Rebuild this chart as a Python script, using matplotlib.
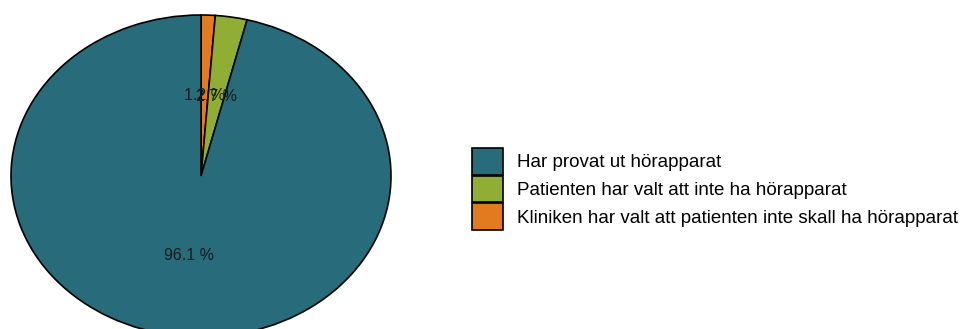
import matplotlib.pyplot as plt

plt.rcParams["font.family"] = ["Liberation Sans", "DejaVu Sans"]

# andelar i procent, medurs från toppen
kategorier = [
    "Kliniken har valt att patienten inte skall ha hörapparat",
    "Patienten har valt att inte ha hörapparat",
    "Har provat ut hörapparat",
]
andelar = [1.2, 2.7, 96.1]
farger = ["#e27b1f", "#8fae33", "#286b7b"]

fig = plt.figure(figsize=(9.65, 3.29), dpi=100)
W, H = 965, 329

# pajen placeras i pixelkoordinater (vänster, topp, bredd, höjd)
px_l, px_t, px_w, px_h = 11, 15, 380, 322
ax = fig.add_axes([px_l / W, (H - px_t - px_h) / H, px_w / W, px_h / H])

wedges, texter, autotexter = ax.pie(
    andelar,
    colors=farger,
    startangle=90,
    counterclock=False,
    autopct=lambda p: f"{p:.1f} %",
    pctdistance=0.5,
    wedgeprops=dict(edgecolor="black", linewidth=1.2),
    textprops=dict(fontsize=11.5, color="#1a1a1a"),
)
ax.set_aspect("auto")
ax.set_xlim(-1.0, 1.0)
ax.set_ylim(-1.0, 1.0)
ax.axis("off")

# legenden i omvänd ordning
ordning = [2, 1, 0]
fig.legend(
    [wedges[i] for i in ordning],
    [kategorier[i] for i in ordning],
    loc="center left",
    bbox_to_anchor=(472 / W, (H - 189) / H),
    frameon=False,
    fontsize=13.5,
    handlelength=1.65,
    handleheight=1.82,
    handletextpad=0.75,
    labelspacing=0.05,
    borderpad=0,
    borderaxespad=0,
)

fig.savefig("out.png", dpi=100)
